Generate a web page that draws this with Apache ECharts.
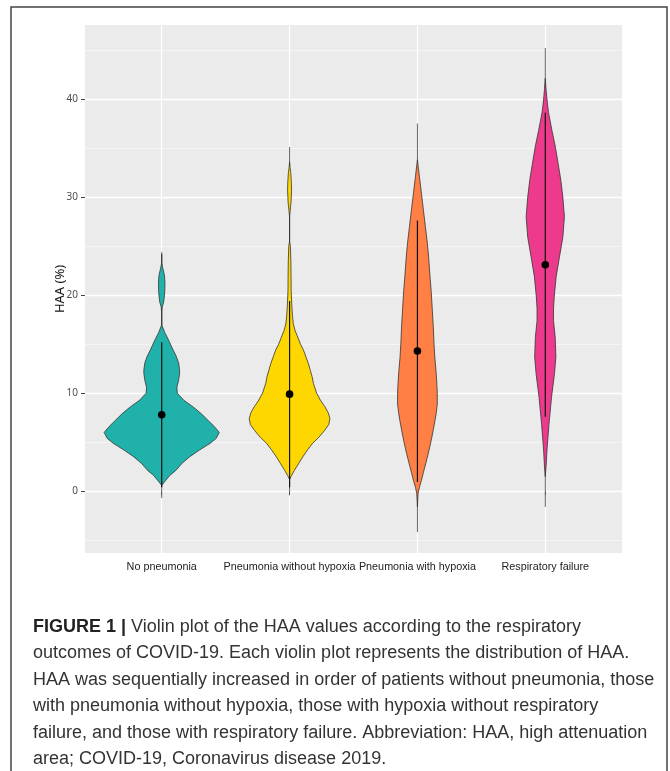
<!DOCTYPE html>
<html><head><meta charset="utf-8">
<script src="https://cdn.jsdelivr.net/npm/echarts@6/dist/echarts.min.js"></script>
<style>html,body{margin:0;padding:0;background:#fff;}#c{width:670px;height:771px;}</style>
</head><body><div id="c"></div>
<script>
const categories = ['No pneumonia', 'Pneumonia without hypoxia', 'Pneumonia with hypoxia', 'Respiratory failure'];
const colors = ['#20B2AA', '#FFD700', '#FF7F45', '#EE3A8C'];
const means = [7.8, 9.9, 14.3, 23.1];
const innerLow = [0.4, 0.4, 0.95, 7.6];
const innerHigh = [15.2, 19.4, 27.6, 38.6];
const rangeLow = [-0.7, -0.2, -4.15, -1.6];
const rangeHigh = [24.4, 35.1, 37.5, 45.2];

// density profiles (HAA value, relative density)
const noPneuY = [24.2, 23.3, 22.8, 22.0, 21.2, 20.2, 19.3, 18.8, 18.0, 16.9, 16.2, 15.4, 14.5, 13.8, 13.1, 12.4, 12.0, 11.3, 10.6, 10.0, 9.3, 8.6, 7.9, 7.2, 6.6, 6.0, 5.4, 4.9, 4.2, 3.5, 2.8, 2.1, 1.6, 1.1, 0.6];
const noPneuD = [0, 0, 1, 2.8, 3.3, 3, 2, 0.5, 0, 0.3, 3, 7, 11, 14.5, 17, 18, 18, 17, 15.3, 15.7, 22, 31.7, 40, 47, 53, 58, 55, 49, 38, 28, 20, 14, 8, 4, 0];
const noHypY = [33.6, 33.0, 32.5, 31.5, 30.7, 29.5, 28.5, 28.0, 25.5, 25.0, 23.5, 22.0, 20.5, 19.5, 18.5, 17.8, 17.1, 16.4, 15.7, 15.0, 14.4, 13.7, 13.0, 12.3, 11.7, 11.0, 10.0, 9.3, 8.6, 8.0, 7.4, 6.8, 6.2, 5.5, 4.9, 4.2, 3.5, 2.8, 2.1, 1.6, 1.2];
const noHypD = [0, 0.5, 1.2, 1.8, 2, 1.5, 0.5, 0, 0, 0.8, 1.3, 1.5, 1.6, 2, 2.5, 3, 3.7, 5.5, 8.3, 11, 14, 16.5, 19, 21, 22.7, 24, 27.3, 31, 35.7, 39, 40.7, 39.5, 35.3, 29.5, 23.3, 18, 13.3, 9, 4.7, 2, 0];
const hypY = [33.8, 32.1, 30.4, 28.7, 27.0, 25.3, 23.6, 21.9, 20.2, 18.5, 16.8, 15.1, 13.7, 12.3, 11.1, 10.0, 8.9, 8.0, 7.2, 6.0, 4.9, 3.8, 2.8, 1.9, 1.1, 0.4, -0.2, -0.9, -1.6];
const hypD = [0, 2, 4, 6, 8, 10, 11.5, 12.7, 14, 15, 16, 16.7, 17.5, 18.7, 19.5, 20, 20, 19, 17.7, 15.5, 13.3, 10.8, 8.3, 6, 4, 2, 0.7, 0.3, 0];
const respY = [42.1, 41.0, 40.2, 39.4, 38.6, 37.7, 36.8, 35.2, 33.4, 31.7, 30.0, 28.0, 25.9, 23.9, 21.9, 19.8, 18.6, 17.4, 15.7, 13.7, 12.0, 9.6, 6.8, 4.2, 2.5, 1.5];
const respD = [0, 0.8, 1.5, 2.3, 3.3, 5, 6.7, 10, 13, 15.7, 17.7, 19.3, 17.7, 14.3, 11, 9, 8.3, 8.3, 10, 10.7, 9.3, 6.3, 3.7, 1.7, 0.8, 0];

const yMajorTicks = [0, 10, 20, 30, 40];
const yMinorTicks = [-5, 5, 15, 25, 35, 45];
const xPositions = [1, 2, 3, 4];

const captionLines = [
  'Violin plot of the HAA values according to the respiratory',
  'outcomes of COVID-19. Each violin plot represents the distribution of HAA.',
  'HAA was sequentially increased in order of patients without pneumonia, those',
  'with pneumonia without hypoxia, those with hypoxia without respiratory',
  'failure, and those with respiratory failure. Abbreviation: HAA, high attenuation',
  'area; COVID-19, Coronavirus disease 2019.'
];

const profY = [noPneuY, noHypY, hypY, respY];
const profD = [noPneuD, noHypD, hypD, respD];
const DMAX = 58;

function makeRender(i) {
  return function (params, api) {
    const unit = api.size([1, 0])[0];
    const sc = 0.45 * unit / DMAX;
    const ys = profY[i], ds = profD[i];
    const right = [], left = [];
    for (let k = 0; k < ys.length; k++) {
      const c = api.coord([xPositions[i], ys[k]]);
      right.push([c[0] + ds[k] * sc, c[1]]);
      left.push([c[0] - ds[k] * sc, c[1]]);
    }
    const pts = right.concat(left.reverse());
    const t = api.coord([xPositions[i], rangeHigh[i]]), b = api.coord([xPositions[i], rangeLow[i]]);
    const it = api.coord([xPositions[i], innerHigh[i]]), ib = api.coord([xPositions[i], innerLow[i]]);
    const m = api.coord([xPositions[i], means[i]]);
    return {
      type: 'group', children: [
        { type: 'line', shape: { x1: t[0], y1: t[1], x2: b[0], y2: b[1] }, style: { stroke: '#666', lineWidth: 1 } },
        { type: 'polygon', shape: { points: pts, smooth: 0 }, style: { fill: colors[i], stroke: '#333', lineWidth: 0.8 } },
        { type: 'line', shape: { x1: it[0], y1: it[1], x2: ib[0], y2: ib[1] }, style: { stroke: '#111', lineWidth: 1.2 } },
        { type: 'circle', shape: { cx: m[0], cy: m[1], r: 3.8 }, style: { fill: '#000' } }
      ]
    };
  };
}

const chart = echarts.init(document.getElementById('c'), null, { renderer: 'canvas' });
const captionGraphics = captionLines.map((s, k) => ({
  type: 'text', left: 33, top: 618 + k * 26.4,
  style: k === 0 ? {
    text: '{b|FIGURE 1 |} ' + s,
    rich: { b: { fontWeight: 'bold', fontSize: 18, fontFamily: 'Liberation Sans', fill: '#222' } },
    fontSize: 18, fontFamily: 'Liberation Sans', fill: '#333'
  } : { text: s, fontSize: 18, fontFamily: 'Liberation Sans', fill: '#333' }
}));

chart.setOption({
  animation: false,
  backgroundColor: '#fff',
  grid: { left: 85, right: 48, top: 25, bottom: 218, show: true, backgroundColor: '#EBEBEB', borderWidth: 0, containLabel: false },
  xAxis: {
    type: 'value', min: 0.4, max: 4.6,
    axisLine: { show: false },
    axisTick: { show: true, customValues: xPositions, length: 4, lineStyle: { color: '#444', width: 1 } },
    axisLabel: { customValues: xPositions, formatter: v => categories[Math.round(v) - 1], color: '#222', fontSize: 10.8, fontFamily: 'Liberation Sans', margin: 9 },
    splitLine: { show: true, lineStyle: { color: '#fff', width: 1.2 } }
  },
  yAxis: [{
    type: 'value', min: -6.3, max: 47.55,
    name: 'HAA (%)', nameLocation: 'middle', nameGap: 18.5, nameRotate: 90, nameMoveOverlap: false,
    nameTextStyle: { color: '#111', fontSize: 13, fontFamily: 'Noto Sans' },
    axisLine: { show: false },
    axisTick: { show: true, customValues: yMajorTicks, length: 4, lineStyle: { color: '#444', width: 1 } },
    axisLabel: { customValues: yMajorTicks, color: '#4D4D4D', fontSize: 10, fontFamily: 'Noto Sans', margin: 7 },
    splitLine: { show: true, lineStyle: { color: '#fff', width: 1.3 } }
  }, {
    type: 'value', min: -6.3, max: 47.55, position: 'left',
    axisLine: { show: false },
    axisTick: { show: false, customValues: yMinorTicks },
    axisLabel: { show: false, customValues: yMinorTicks },
    splitLine: { show: true, lineStyle: { color: '#F7F7F7', width: 0.8 } }
  }],
  graphic: [
    { type: 'rect', shape: { x: 11, y: 7, width: 656, height: 790 }, style: { fill: 'none', stroke: '#444', lineWidth: 1.5 }, z: 100 }
  ].concat(captionGraphics),
  series: categories.map((c, i) => ({
    type: 'custom', name: c, coordinateSystem: 'cartesian2d', clip: true,
    data: [[xPositions[i], means[i]]],
    renderItem: makeRender(i)
  }))
});
</script></body></html>
